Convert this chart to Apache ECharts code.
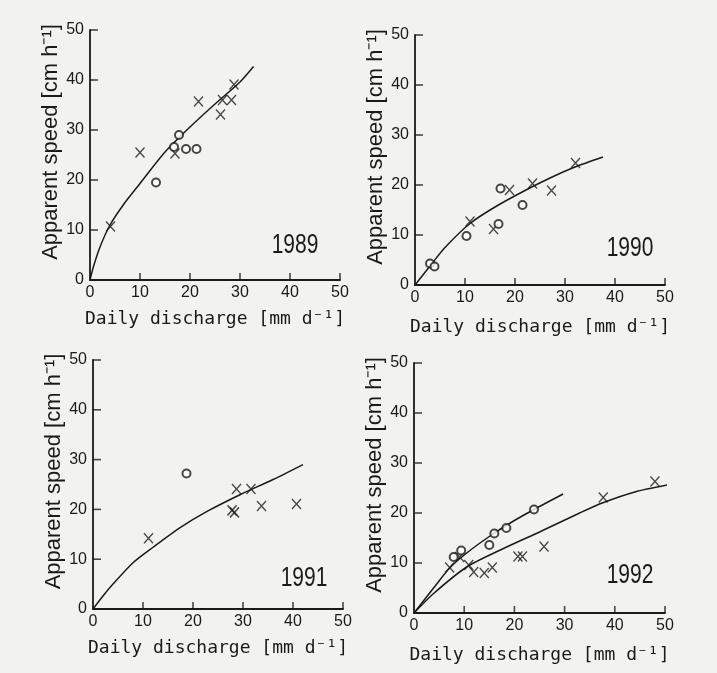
<!DOCTYPE html>
<html>
<head>
<meta charset="utf-8">
<script src="https://cdn.jsdelivr.net/npm/echarts@6/dist/echarts.min.js"></script>
<style>
html, body { margin: 0; padding: 0; background: #f2f2f0; }
#main { width: 717px; height: 673px; }
</style>
</head>
<body>
<div id="main"></div>
<script>
/* data (x: daily discharge, y: apparent speed) */
var years = ['1989', '1990', '1991', '1992'];
var tickValues = [10, 20, 30, 40, 50];

var cross1989 = [[4.1, 10.7], [10, 25.5], [17, 25.3], [21.7, 35.7], [26.1, 33.1], [26.5, 36], [28.3, 36], [28.8, 39.1]];
var circle1989 = [[13.2, 19.5], [16.8, 26.6], [17.8, 29], [19.2, 26.2], [21.3, 26.2]];
var curve1989 = [[0, 0], [0.7, 2.7], [2, 6.6], [4, 11], [7, 15.5], [10, 19.3], [15, 25.6], [20, 30.6], [25, 35.2], [30, 39.6], [32.7, 42.7]];

var cross1990 = [[11, 12.7], [15.7, 11.2], [18.9, 19], [23.5, 20.3], [27.3, 18.9], [32.1, 24.4]];
var circle1990 = [[3, 4.3], [3.9, 3.7], [10.3, 9.8], [16.7, 12.2], [17.1, 19.3], [21.5, 16]];
var curve1990 = [[0, 0], [3, 3.8], [6, 7.5], [11, 12.3], [16, 15.6], [22, 18.9], [27, 21.4], [32, 23.6], [37.6, 25.6]];

var cross1991 = [[11.1, 14.2], [27.8, 19.8], [28.3, 19.4], [28.7, 24.1], [31.6, 24.1], [33.7, 20.7], [40.7, 21.1]];
var circle1991 = [[18.7, 27.2]];
var curve1991 = [[0, 0], [2, 2.6], [4, 5], [8, 9.3], [12, 12.4], [17.5, 16.4], [23, 19.7], [29.5, 23], [36, 26], [42, 29]];

var cross1992 = [[7.1, 9.1], [9.1, 11.2], [10.9, 9.6], [11.9, 8.2], [14, 8], [15.6, 9.1], [20.7, 11.3], [21.6, 11.3], [25.9, 13.3], [37.7, 23.1], [48, 26.3]];
var circle1992 = [[7.9, 11.2], [9.4, 12.5], [15, 13.6], [16, 15.9], [18.4, 17], [23.9, 20.7]];
var curve1992o = [[0, 0], [3.9, 5], [7.1, 9], [10.5, 12], [15, 15.3], [19.5, 18.2], [23.9, 20.7], [29.7, 23.8]];
var curve1992x = [[0, 0], [3.9, 3.9], [10.5, 9.2], [17.2, 12.6], [25.2, 16.3], [33, 20], [37.5, 22], [44, 24.2], [50.5, 25.6]];

var panels = [
    {crosses: cross1989, circles: circle1989, curves: [curve1989]},
    {crosses: cross1990, circles: circle1990, curves: [curve1990]},
    {crosses: cross1991, circles: circle1991, curves: [curve1991]},
    {crosses: cross1992, circles: circle1992, curves: [curve1992o, curve1992x]}
];

/* layout */
var ink = '#1a1a1a';
var grids = [
    {left: 90, top: 30, width: 250, height: 250},
    {left: 415, top: 35, width: 250, height: 250},
    {left: 93, top: 360, width: 250, height: 249},
    {left: 414, top: 363, width: 251, height: 250}
];
var xGaps = [30, 33, 30, 33];
var yearPos = [[295, 245], [630, 248], [304, 578], [630, 575]];

var crossSymbol = 'path://M0,0L8,9M8,0L0,9';

// inside axis ticks, drawn as thin rect symbols sitting on the axes
var xTickPts = tickValues.map(function (v) { return [v, 0]; });
var yTickPts = tickValues.map(function (v) { return [0, v]; });

var xAxes = [], yAxes = [], series = [], graphics = [];
for (var i = 0; i < panels.length; i++) {
    xAxes.push({
        gridIndex: i, type: 'value', min: 0, max: 50, interval: 10,
        name: 'Daily discharge [mm d\u207B\u00B9]',
        nameLocation: 'middle', nameGap: xGaps[i],
        nameTextStyle: {fontFamily: 'DejaVu Sans Mono', fontSize: 18, color: ink},
        axisLine: {show: true, lineStyle: {color: ink, width: 1.8}},
        axisTick: {show: false},
        axisLabel: {fontFamily: 'Liberation Sans', fontSize: 16, color: ink, margin: 5},
        splitLine: {show: false}
    });
    yAxes.push({
        gridIndex: i, type: 'value', min: 0, max: 50, interval: 10,
        name: 'Apparent speed [cm h\u207B\u00B9]',
        nameLocation: 'middle', nameRotate: 90, nameGap: 28,
        nameTextStyle: {fontFamily: 'Liberation Sans', fontSize: 22, color: ink, padding: [0, 0, 0, 26]},
        axisLine: {show: true, lineStyle: {color: ink, width: 1.8}},
        axisTick: {show: false},
        axisLabel: {fontFamily: 'Liberation Sans', fontSize: 16, color: ink, margin: 6},
        splitLine: {show: false}
    });
    var p = panels[i];
    series.push({
        type: 'scatter', xAxisIndex: i, yAxisIndex: i, data: xTickPts,
        symbol: 'rect', symbolSize: [1.6, 7], symbolOffset: [0, -3.5],
        clip: false, silent: true, z: 4, itemStyle: {color: ink}
    });
    series.push({
        type: 'scatter', xAxisIndex: i, yAxisIndex: i, data: yTickPts,
        symbol: 'rect', symbolSize: [8, 1.6], symbolOffset: [4, 0],
        clip: false, silent: true, z: 4, itemStyle: {color: ink}
    });
    for (var c = 0; c < p.curves.length; c++) {
        series.push({
            type: 'line', xAxisIndex: i, yAxisIndex: i,
            data: p.curves[c], smooth: 0.25, showSymbol: false, z: 1,
            lineStyle: {color: ink, width: 1.5}
        });
    }
    series.push({
        type: 'scatter', xAxisIndex: i, yAxisIndex: i, data: p.crosses,
        symbol: crossSymbol, symbolSize: [9, 10], z: 3,
        itemStyle: {color: 'rgba(0,0,0,0)', borderColor: ink, borderWidth: 1.4}
    });
    series.push({
        type: 'scatter', xAxisIndex: i, yAxisIndex: i, data: p.circles,
        symbol: 'emptyCircle', symbolSize: 8, z: 3,
        itemStyle: {color: ink, borderWidth: 1.4}
    });
    graphics.push({
        type: 'text', x: yearPos[i][0], y: yearPos[i][1], scaleX: 0.75,
        style: {
            text: years[i], fill: ink, font: '28px "Liberation Sans"',
            align: 'center', verticalAlign: 'middle'
        }
    });
}

var myChart = echarts.init(document.getElementById('main'));
myChart.setOption({
    backgroundColor: '#f2f2f0',
    animation: false,
    grid: grids,
    xAxis: xAxes,
    yAxis: yAxes,
    series: series,
    graphic: graphics
});
</script>
</body>
</html>
